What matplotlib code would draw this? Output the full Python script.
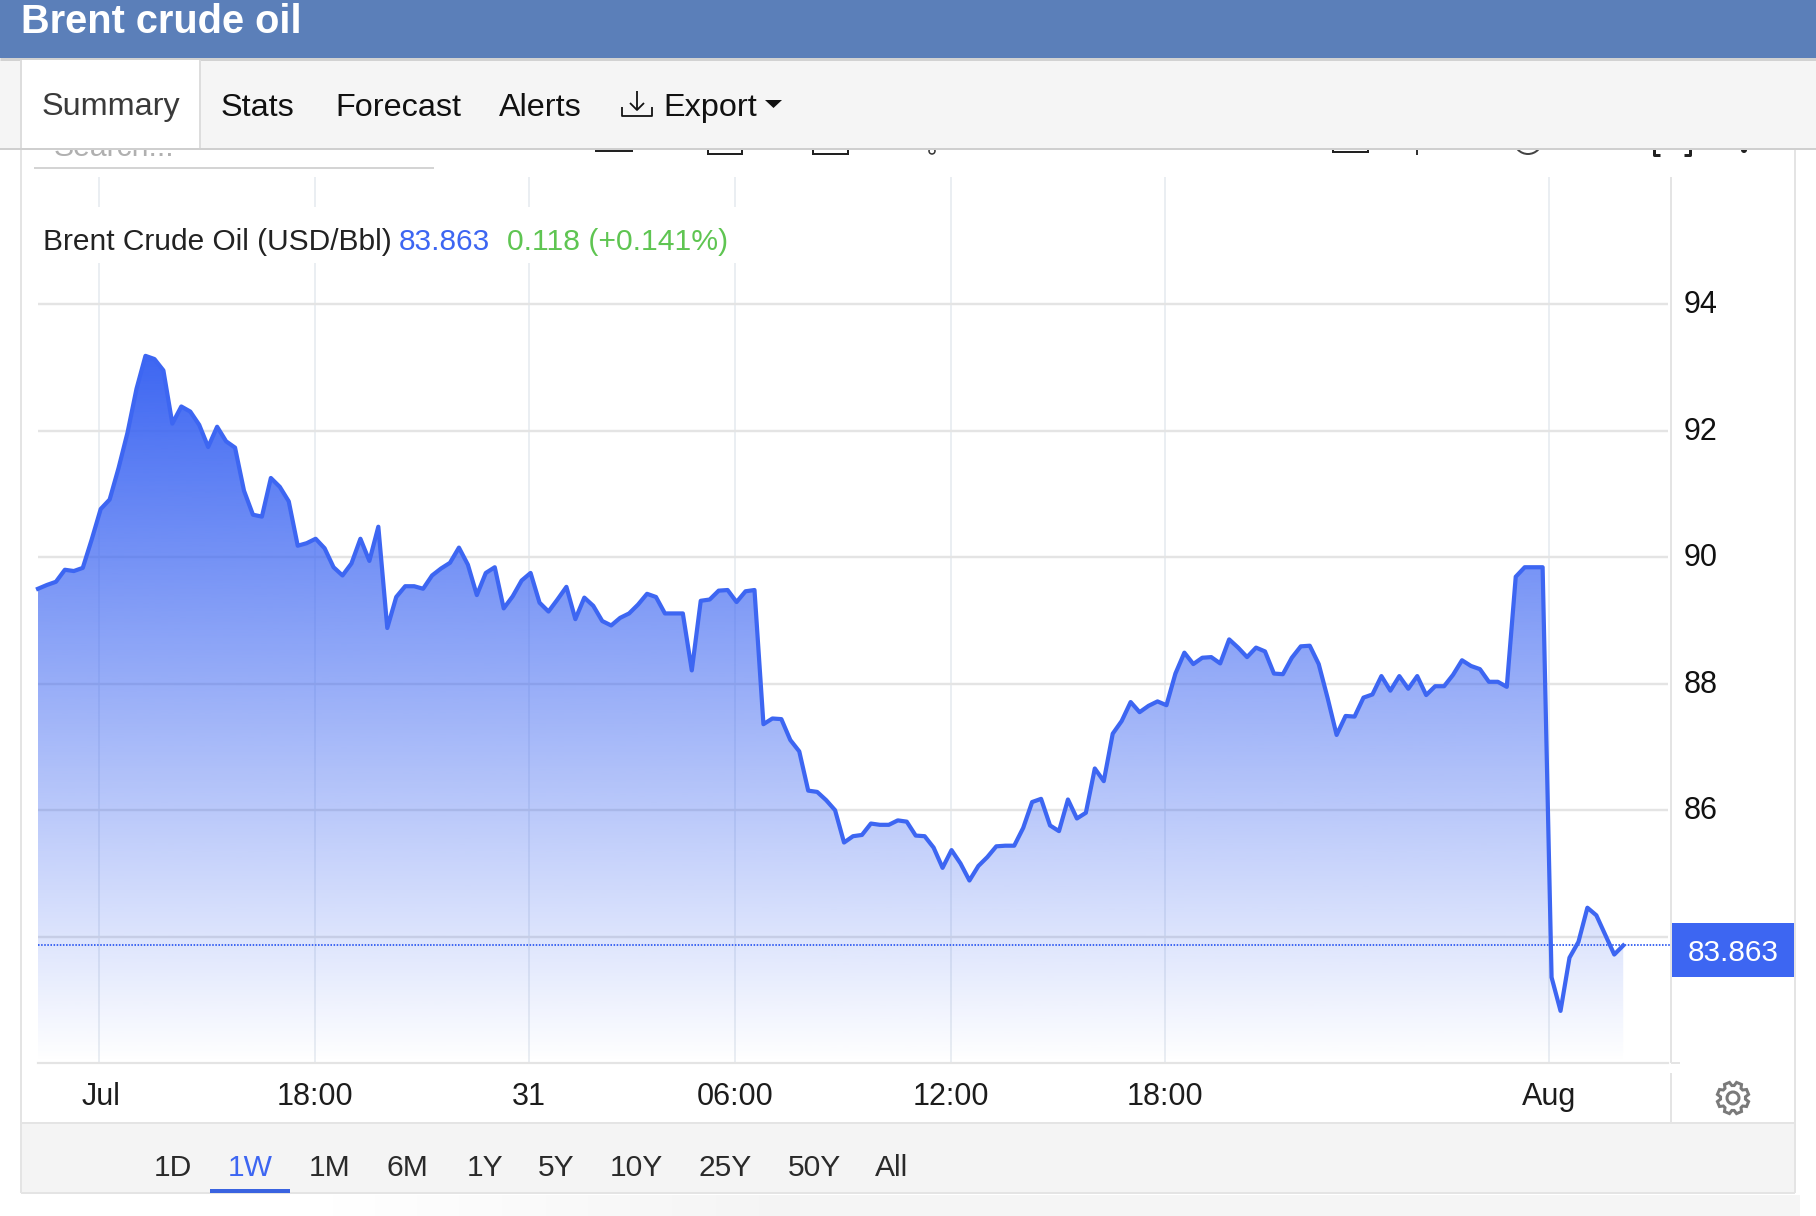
"""Brent crude oil, one week view, redrawn from a screenshot of the quote page."""

import numpy as np
import matplotlib
matplotlib.use('Agg')
import matplotlib.pyplot as plt
from matplotlib.colors import to_rgb
from matplotlib.patches import Rectangle, Polygon, Circle
from matplotlib.transforms import ScaledTranslation

plt.rcParams['font.family'] = ['Liberation Sans', 'DejaVu Sans']

# Ordinal axis: the page spaces the samples evenly, so the index is the x value
prices = [
    89.50, 89.56, 89.61, 89.80, 89.78, 89.83, 90.28, 90.76, 90.91, 91.41,
    91.97, 92.66, 93.18, 93.13, 92.95, 92.11, 92.38, 92.30, 92.09, 91.74,
    92.06, 91.83, 91.73, 91.05, 90.67, 90.64, 91.25, 91.11, 90.88, 90.18,
    90.22, 90.29, 90.14, 89.84, 89.71, 89.90, 90.29, 89.94, 90.48, 88.88,
    89.37, 89.54, 89.54, 89.50, 89.71, 89.82, 89.91, 90.15, 89.88, 89.40,
    89.75, 89.84, 89.19, 89.38, 89.63, 89.75, 89.28, 89.14, 89.33, 89.53,
    89.02, 89.36, 89.23, 88.99, 88.92, 89.04, 89.11, 89.25, 89.42, 89.37,
    89.11, 89.11, 89.11, 88.21, 89.31, 89.33, 89.47, 89.48, 89.29, 89.46,
    89.48, 87.36, 87.45, 87.44, 87.11, 86.93, 86.31, 86.29, 86.16, 86.00,
    85.49, 85.59, 85.61, 85.79, 85.77, 85.77, 85.84, 85.82, 85.60, 85.59,
    85.41, 85.09, 85.37, 85.16, 84.89, 85.12, 85.26, 85.43, 85.44, 85.44,
    85.72, 86.13, 86.18, 85.76, 85.67, 86.17, 85.87, 85.96, 86.66, 86.46,
    87.21, 87.41, 87.71, 87.55, 87.65, 87.72, 87.66, 88.16, 88.49, 88.31,
    88.41, 88.42, 88.32, 88.70, 88.57, 88.42, 88.57, 88.51, 88.16, 88.15,
    88.41, 88.59, 88.60, 88.31, 87.77, 87.19, 87.49, 87.48, 87.78, 87.83,
    88.12, 87.89, 88.12, 87.92, 88.12, 87.82, 87.96, 87.96, 88.14, 88.37,
    88.28, 88.23, 88.03, 88.03, 87.95, 89.69, 89.84, 89.84, 89.84, 83.36,
    82.83, 83.67, 83.92, 84.46, 84.34, 84.03, 83.72, 83.863,
]
last_price = 83.863
x_tick_pos = [6.76, 30.93, 54.83, 77.83, 101.95, 125.85, 168.73]
x_tick_labels = ['Jul', '18:00', '31', '06:00', '12:00', '18:00', 'Aug']
y_ticks = [84, 86, 88, 90, 92, 94]
y_tick_labels = ['', '86', '88', '90', '92', '94']  # the price tag hides 84
tabs = ['Stats', 'Forecast', 'Alerts']
tab_x = [221, 335, 499]
ranges = ['1D', '1W', '1M', '6M', '1Y', '5Y', '10Y', '25Y', '50Y', 'All']
range_x = [173, 250, 330, 407.5, 485, 556, 636.5, 725, 814, 892]

W, H = 1816, 1216
BLUE = '#3d66f2'
GREEN = '#5fc552'
BORDER = '#e4e4e4'
PX = 0.72  # points per pixel at dpi 100

fig = plt.figure(figsize=(W / 100, H / 100), dpi=100, facecolor='white')

# everything that is page furniture is drawn in pixel coordinates
under = fig.add_axes([0, 0, 1, 1], zorder=0)
over = fig.add_axes([0, 0, 1, 1], zorder=2)


def box(a, x0, y0, x1, y1, color, z=1):
    a.add_patch(Rectangle((x0, y0), x1 - x0, y1 - y0, facecolor=color, edgecolor='none', zorder=z))


def stroke(a, xs, ys, color=BORDER, width=2, z=2):
    a.plot(xs, ys, color=color, lw=width * PX, zorder=z, solid_capstyle='butt')


# Page bottom has a faint grey wash that comes in from the left
wash = np.ones((1, 256, 4)) * 0.96
wash[..., 3] = np.linspace(0, 1, 256)
under.imshow(wash, extent=[330, 800, H, 1195], aspect='auto', zorder=1)
box(under, 800, 1195, 1800, H, '#f5f5f5')

for a in (under, over):
    a.set_xlim(0, W)
    a.set_ylim(H, 0)
    a.axis('off')

# Search row scrolled under the tab bar, only its lower edge is visible
under.text(54, 156, 'Search...', color='#b0b0b0', fontsize=21.7, va='baseline', zorder=2)
stroke(under, [34, 434], [168, 168], '#d4d4d4')
for x0, x1, y1 in [(596, 632, 151), (708, 742, 154), (813, 848, 154), (1333, 1368, 152)]:
    under.add_patch(Rectangle((x0, 140), x1 - x0, y1 - 140, facecolor='none', edgecolor='#222222',
                              lw=2 * PX, zorder=2))
stroke(under, [1417, 1417], [148, 155], '#333333')
stroke(under, [932, 932], [148, 153], '#333333')
under.add_patch(Circle((932, 151), 3, facecolor='white', edgecolor='#333333', lw=1.5 * PX, zorder=2))
under.add_patch(Circle((1528, 140), 14, facecolor='none', edgecolor='#444444', lw=2 * PX, zorder=2))
stroke(under, [1654, 1654, 1660], [148, 155, 155], '#222222', 3)
stroke(under, [1690, 1690, 1684], [148, 155, 155], '#222222', 3)
under.add_patch(Circle((1744, 150), 3, facecolor='#222222', edgecolor='none', zorder=2))

# Chart
left, right, top, bottom = 38, 1668, 177.4, 1063.4
ax = fig.add_axes([left / W, 1 - bottom / H, (right - left) / W, (bottom - top) / H], zorder=1)
ax.patch.set_alpha(0)
x = np.arange(len(prices))

ax.set_axisbelow(True)
ax.yaxis.grid(True, color='#e4e4e4', lw=2.4 * PX)
ax.xaxis.grid(True, color='#e8edf1', lw=1.8 * PX)
ax.set_xticks(x_tick_pos)
ax.set_xticklabels(x_tick_labels)
ax.set_yticks(y_ticks)
ax.set_yticklabels(y_tick_labels)
ax.yaxis.tick_right()
ax.tick_params(axis='x', length=0, pad=13.5, labelsize=22, labelcolor='#1c1c1c')
ax.tick_params(axis='y', length=0, pad=11.5, labelsize=22, labelcolor='#111111')
for side in ('top', 'left', 'right'):
    ax.spines[side].set_visible(False)
ax.spines['bottom'].set_color(BORDER)
ax.spines['bottom'].set_linewidth(2.2 * PX)

# y labels sit a little above their gridlines on the page, "Jul" a little right of its own
up = ScaledTranslation(0, 2.5 / 100, fig.dpi_scale_trans)
for lab in ax.get_yticklabels():
    lab.set_transform(lab.get_transform() + up)
nudge = ScaledTranslation(2.5 / 100, 0, fig.dpi_scale_trans)
jul = ax.get_xticklabels()[0]
jul.set_transform(jul.get_transform() + nudge)

# Area fill fades from the line colour at the peak to nothing at the axis
gradient = np.zeros((256, 1, 4))
gradient[..., :3] = to_rgb(BLUE)
gradient[..., 3] = np.linspace(1, 0, 256)[:, None]
outline = ax.fill_between(x, prices, 82, facecolor='none', edgecolor='none')
im = ax.imshow(gradient, extent=[x[0], x[-1], 82, max(prices)], aspect='auto', origin='upper', zorder=1.5)
im.set_clip_path(outline.get_paths()[0], transform=ax.transData)
ax.set_xlim(0, 182)
ax.set_ylim(82, 96)

ax.plot(x, prices, color=BLUE, lw=4.2 * PX, zorder=3, solid_joinstyle='round', clip_on=False)
ax.plot([0, 182.4], [last_price, last_price], color=BLUE, lw=1.4, ls=(0, (0.8, 0.8)), zorder=2.5, clip_on=False)

# Legend row sits on a white plate that interrupts the vertical grid
box(over, 30, 207, 738, 263, 'white')
over.text(43, 250, 'Brent Crude Oil (USD/Bbl)', fontsize=21.5, color='#222222', va='baseline', zorder=3)
over.text(399, 250, '83.863', fontsize=21.5, color=BLUE, va='baseline', zorder=3)
over.text(507, 250, '0.118 (+0.141%)', fontsize=21.7, color=GREEN, va='baseline', zorder=3)

# Price axis frame and the last price tag
stroke(over, [1671, 1671], [177, 1063])
stroke(over, [1671, 1671], [1073, 1123])
stroke(over, [1671, 1680], [1063.4, 1063.4])
box(over, 1672, 923, 1794, 977, BLUE)
over.text(1733, 953, '83.863', fontsize=21.4, color='white', ha='center', va='center', zorder=3)

# Gear
angles = np.linspace(0, 2 * np.pi, 8, endpoint=False) + np.pi / 8
gear = []
for t in angles:
    for da, r in [(-0.30, 12.5), (-0.17, 16), (0.17, 16), (0.30, 12.5)]:
        gear.append((1733 + r * np.cos(t + da), 1098 + r * np.sin(t + da)))
over.add_patch(Polygon(gear, closed=True, facecolor='none', edgecolor='#7a7a7a', lw=3 * PX, zorder=3))
over.add_patch(Circle((1733, 1098), 6, facecolor='none', edgecolor='#7a7a7a', lw=3 * PX, zorder=3))

# Range selector
box(over, 21, 1123, 1795, 1193, '#f4f4f4')
stroke(over, [21, 1795], [1123, 1123])
stroke(over, [21, 1795], [1193, 1193])
stroke(over, [21, 21], [148, 1193])
stroke(over, [1795, 1795], [148, 1193])
for label, cx in zip(ranges, range_x):
    color = BLUE if label == '1W' else '#2a2a2a'
    over.text(cx, 1168, label, fontsize=21.6, color=color, ha='center', va='center', zorder=3)
box(over, 210, 1189, 290, 1193, '#3a63e0', z=3)

# Header and tab bar
box(over, 0, 0, W, 58, '#5b7fb9')
over.text(21, 33, 'Brent crude oil', fontsize=28.6, fontweight='bold', color='white', va='baseline', zorder=3)
box(over, 0, 58, W, 148, '#f5f5f5')
stroke(over, [0, W], [59, 59], '#d2d2d2', 3)
stroke(over, [0, W], [148.5, 148.5], '#cfcfcf')
box(over, 21, 60, 200, 148, 'white', z=2)
stroke(over, [21, 21], [60, 148], '#dddddd', z=3)
stroke(over, [200, 200], [60, 148], '#dddddd', z=3)
over.text(42, 115.5, 'Summary', fontsize=23.3, color='#3a3a3a', va='baseline', zorder=3)
for label, tx in zip(tabs, tab_x):
    over.text(tx, 115.5, label, fontsize=23.3, color='#111111', va='baseline', zorder=3)
over.text(663, 116, 'Export', fontsize=23.3, color='#111111', va='baseline', zorder=3)
stroke(over, [637, 637], [91, 110], '#111111', 1.8, z=3)
stroke(over, [630, 637, 644], [103, 110, 103], '#111111', 1.8, z=3)
stroke(over, [622, 622, 652, 652], [107, 116, 116, 107], '#111111', 1.8, z=3)
over.add_patch(Polygon([(765, 100), (782, 100), (773.5, 108)], closed=True, facecolor='#111111',
                       edgecolor='none', zorder=3))

fig.savefig('out.png', dpi=100)
